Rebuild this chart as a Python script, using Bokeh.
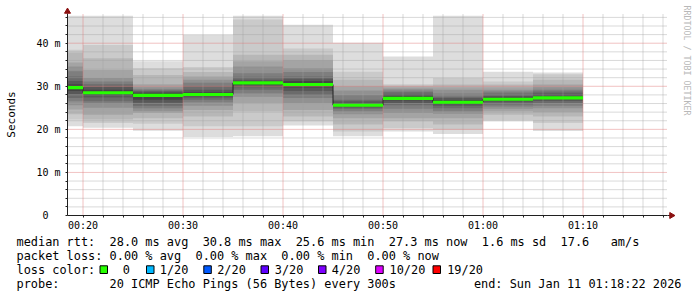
import math
from bokeh.plotting import figure
from bokeh.models import Range1d, FixedTicker, ColumnDataSource
from bokeh.layouts import column, row
from bokeh.embed import file_html
from bokeh.resources import INLINE
from bokeh.core.properties import value

# ---------------- data ----------------
slot_end = ["00:20", "00:25", "00:30", "00:35", "00:40", "00:45",
            "00:50", "00:55", "01:00", "01:05", "01:10"]
slot_minutes = 5
view_start = "00:18:27"
view_end = "01:18:27"

# 20 sorted ping RTTs (ms) per 5-minute slot
pings_0020 = [20.7, 22.3, 23.5, 24.6, 25.6, 26.5, 27.3, 28.2, 28.9, 29.5, 29.9, 30.5, 31.2, 32.3, 33.5, 34.6, 35.5, 37.8, 38.5, 46.4]
pings_0025 = [20.4, 21.5, 22.3, 23.4, 25.0, 26.0, 26.5, 27.4, 28.0, 28.3, 28.7, 29.2, 29.9, 30.5, 31.1, 31.9, 33.8, 36.5, 39.6, 46.4]
pings_0030 = [19.7, 21.3, 22.6, 23.8, 24.2, 24.9, 25.5, 26.2, 26.9, 27.6, 28.2, 28.5, 28.8, 29.0, 29.3, 29.8, 30.5, 32.6, 34.2, 35.8]
pings_0035 = [18.2, 20.7, 23.0, 24.5, 25.5, 26.3, 26.9, 27.4, 27.8, 28.0, 28.2, 28.6, 29.2, 30.0, 30.8, 31.5, 32.3, 33.3, 34.5, 41.9]
pings_0040 = [18.4, 20.7, 24.2, 26.1, 27.6, 28.4, 29.2, 29.8, 30.3, 30.7, 30.9, 31.2, 31.5, 32.2, 33.0, 34.6, 35.8, 37.3, 45.5, 46.4]
pings_0045 = [20.9, 21.9, 23.0, 24.5, 26.1, 27.3, 28.0, 28.9, 29.7, 30.2, 30.6, 31.2, 31.8, 32.3, 33.3, 34.2, 36.1, 37.3, 38.8, 44.3]
pings_0050 = [18.4, 19.5, 21.1, 22.6, 23.5, 24.2, 24.8, 25.1, 25.4, 25.5, 25.7, 26.0, 26.5, 26.9, 28.0, 29.0, 30.0, 31.5, 33.4, 40.1]
pings_0055 = [19.5, 20.3, 21.9, 22.6, 23.8, 24.8, 25.6, 26.1, 26.7, 27.0, 27.4, 27.8, 28.2, 28.6, 29.0, 29.4, 29.8, 30.1, 30.5, 36.9]
pings_0100 = [18.9, 19.9, 21.1, 22.6, 23.6, 24.2, 24.9, 25.5, 25.9, 26.2, 26.4, 26.8, 27.3, 27.6, 28.3, 29.2, 29.8, 30.4, 31.9, 46.4]
pings_0105 = [21.9, 22.2, 23.4, 24.2, 24.8, 25.3, 25.8, 26.3, 26.7, 26.9, 27.1, 27.4, 27.8, 28.3, 28.8, 29.2, 29.8, 30.4, 31.1, 33.4]
pings_0110 = [19.6, 21.5, 23.0, 24.0, 24.9, 25.5, 26.1, 26.6, 27.0, 27.2, 27.4, 27.8, 28.3, 28.8, 29.2, 29.8, 30.4, 31.5, 32.8, 33.2]

median_rtt = [29.7, 28.5, 27.9, 28.1, 30.8, 30.4, 25.6, 27.2, 26.3, 27.0, 27.3]

x_tick_labels = ["00:20", "00:30", "00:40", "00:50", "01:00", "01:10"]
y_ticks = [0, 10, 20, 30, 40]
y_tick_labels = ["0\u00a0\u00a0", "10 m", "20 m", "30 m", "40 m"]
y_max = 46.9

loss_labels = ["0", "1/20", "2/20", "3/20", "4/20", "10/20", "19/20"]
loss_colors = ["#26ff00", "#00b8ff", "#0059ff", "#5e00ff", "#7e00ff", "#dd00ff", "#ff0000"]

line_rtt = "median rtt:  28.0 ms avg  30.8 ms max  25.6 ms min  27.3 ms now  1.6 ms sd  17.6   am/s"
line_loss = "packet loss: 0.00 % avg  0.00 % max  0.00 % min  0.00 % now"
line_color = "loss color:"
line_probe = "probe:       20 ICMP Echo Pings (56 Bytes) every 300s"
line_end = "end: Sun Jan 11 01:18:22 2026"
watermark = "RRDTOOL / TOBI OETIKER"

all_pings = [pings_0020, pings_0025, pings_0030, pings_0035, pings_0040, pings_0045,
             pings_0050, pings_0055, pings_0100, pings_0105, pings_0110]


def to_min(s):
    parts = [int(v) for v in s.split(":")]
    sec = parts[2] if len(parts) > 2 else 0
    return parts[0] * 60 + parts[1] + sec / 60.0


def keep_spaces(s):
    return s.replace(" ", "\u00a0")


x0 = to_min(view_start)
x1 = to_min(view_end)
ends = [to_min(t) for t in slot_end]
starts = [e - slot_minutes for e in ends]
vis_starts = [max(s, x0) for s in starts]

MONO = "DejaVu Sans Mono"
AXIS_COL = "#202020"
ARROW_COL = "#8b1010"

p = figure(width=680, height=233, x_range=Range1d(x0, x1), y_range=Range1d(0, y_max),
           output_backend="svg", toolbar_location=None,
           min_border_left=67, min_border_right=13, min_border_top=13, min_border_bottom=18)
p.frame_align = False
p.outline_line_color = None
p.background_fill_color = "white"
p.border_fill_color = "white"
p.grid.visible = False

# smoke: nested bands (smokeping colouring)
n = 20
half = n / 2
sl, sr, sb, st, sc = [], [], [], [], []
for ibot in range(1, n // 2 + 1):
    itop = n + 1 - ibot
    g = int(190 / half * (half - ibot)) + 50
    col = "#%02x%02x%02x" % (g, g, g)
    for j, pl in enumerate(all_pings):
        sl.append(starts[j]); sr.append(ends[j])
        sb.append(pl[ibot - 1]); st.append(pl[itop - 1])
        sc.append(col)
p.quad(left="left", right="right", bottom="bottom", top="top", fill_color="color",
       line_color=None, source=ColumnDataSource(dict(left=sl, right=sr, bottom=sb, top=st, color=sc)))

# grid lines drawn from the tick lists (dotted, on top of the smoke like rrdtool)
xt = [to_min(t) for t in x_tick_labels]
x_minor = [m for m in range(int(math.ceil(x0)), int(x1) + 1) if m % 2 == 0 and m % 10 != 0]
y_minor = [v for v in range(2, int(y_max) + 1, 2) if v % 10 != 0]
MINOR_COL = "#a0a0a0"
MAJOR_COL = "#e07878"
p.segment(x0=x_minor, x1=x_minor, y0=[0] * len(x_minor), y1=[y_max] * len(x_minor),
          line_color=MINOR_COL, line_width=1, line_dash="1 1", line_alpha=0.8)
p.segment(x0=[x0] * len(y_minor), x1=[x1] * len(y_minor), y0=y_minor, y1=y_minor,
          line_color=MINOR_COL, line_width=1, line_dash="1 1", line_alpha=0.8)
p.segment(x0=xt, x1=xt, y0=[0] * len(xt), y1=[y_max] * len(xt),
          line_color=MAJOR_COL, line_width=1, line_dash="1 1", line_alpha=0.9)
p.segment(x0=[x0] * len(y_ticks), x1=[x1] * len(y_ticks), y0=y_ticks, y1=y_ticks,
          line_color=MAJOR_COL, line_width=1, line_dash="1 1", line_alpha=0.9)

# median line + green loss band
sx = vis_starts + [ends[-1]]
sy = median_rtt + [median_rtt[-1]]
p.step(x=sx, y=sy, mode="after", line_color="#202020", line_width=1)
p.quad(left=vis_starts, right=ends, bottom=[m - 0.36 for m in median_rtt],
       top=[m + 0.36 for m in median_rtt], fill_color=loss_colors[0], line_color=None)

# axes / ticks
xtick = FixedTicker(ticks=xt, minor_ticks=x_minor)
ytick = FixedTicker(ticks=y_ticks, minor_ticks=y_minor)
p.xaxis.ticker = xtick
p.yaxis.ticker = ytick
p.xaxis.major_label_overrides = {int(v): s for v, s in zip(xt, x_tick_labels)}
p.yaxis.major_label_overrides = {v: s for v, s in zip(y_ticks, y_tick_labels)}

for ax in (p.xaxis, p.yaxis):
    ax.axis_line_color = AXIS_COL
    ax.major_tick_line_color = AXIS_COL
    ax.minor_tick_line_color = AXIS_COL
    ax.major_tick_in = 0
    ax.minor_tick_in = 0
    ax.major_tick_out = 2
    ax.minor_tick_out = 2
    ax.major_label_text_font = MONO
    ax.major_label_text_font_size = "10px"
    ax.major_label_text_color = "#000000"
p.xaxis.major_label_standoff = 2
p.yaxis.major_label_standoff = 5
p.yaxis.axis_label = "Seconds"
p.yaxis.axis_label_text_font = MONO
p.yaxis.axis_label_text_font_size = "11px"
p.yaxis.axis_label_text_font_style = "normal"
p.yaxis.axis_label_text_color = "#000000"
p.yaxis.axis_label_standoff = 15

# arrow heads at the axis ends (overlay level so they may sit just outside the frame)
px_per_ms = 202 / y_max
px_per_min = 600 / (x1 - x0)
ext = p.segment(x0=[x1], x1=[x1 + 3 / px_per_min], y0=[0], y1=[0], line_color=AXIS_COL, line_width=1)
ext.level = "overlay"
ah1 = p.scatter(x=[x0], y=[y_max + 2 / px_per_ms], marker="triangle", size=6,
                fill_color=ARROW_COL, line_color=ARROW_COL)
ah2 = p.scatter(x=[x1 + 4 / px_per_min], y=[0], marker="triangle", size=6, angle=-math.pi / 2,
                fill_color=ARROW_COL, line_color=ARROW_COL)
ah1.level = "overlay"
ah2.level = "overlay"

# ---------------- watermark strip ----------------
wm = figure(width=17, height=233, x_range=Range1d(680, 697), y_range=Range1d(233, 0),
            output_backend="svg", toolbar_location=None, min_border=0,
            x_axis_type=None, y_axis_type=None)
wm.frame_align = False
wm.outline_line_color = None
wm.grid.visible = False
wm.background_fill_color = "white"
wm.border_fill_color = "white"
wm.text(x=[686.5], y=[5], text=[keep_spaces(watermark)], angle=-math.pi / 2,
        text_font=value(MONO), text_font_size=value("8.3px"), text_align="left",
        text_baseline="middle", text_color="#b8b8b8")

# ---------------- legend area ----------------
lg = figure(width=697, height=64, x_range=Range1d(0, 697), y_range=Range1d(64, 0),
            output_backend="svg", toolbar_location=None, min_border=0,
            x_axis_type=None, y_axis_type=None)
lg.frame_align = False
lg.outline_line_color = None
lg.grid.visible = False
lg.background_fill_color = "white"
lg.border_fill_color = "white"

row_y = [8.0, 22.7, 36.3, 50.3]
LFS = "11.9px"
lg.text(x=[16, 16, 16, 16], y=row_y,
        text=[keep_spaces(t) for t in (line_rtt, line_loss, line_color, line_probe)],
        text_font=value(MONO), text_font_size=value(LFS), text_baseline="middle",
        text_align="left", text_color="#000000")
lg.text(x=[681], y=[row_y[3]], text=[keep_spaces(line_end)], text_font=value(MONO),
        text_font_size=value(LFS), text_baseline="middle", text_align="right", text_color="#000000")

sw_left = [99.5, 146.0, 203.3, 260.5, 318.0, 375.2, 432.5]
lab_x = [122.3, 159.3, 216.7, 274.3, 331.3, 389.0, 446.7]
lg.quad(left=sw_left, right=[v + 7.5 for v in sw_left], top=[row_y[2] - 4.0] * 7,
        bottom=[row_y[2] + 3.7] * 7, fill_color=loss_colors, line_color="#000000", line_width=1)
lg.text(x=lab_x, y=[row_y[2]] * 7, text=loss_labels, text_font=value(MONO),
        text_font_size=value(LFS), text_baseline="middle", text_align="left", text_color="#000000")

layout = column(row(p, wm, spacing=0), lg, spacing=0)
open("out.html", "w").write(file_html(layout, INLINE))
